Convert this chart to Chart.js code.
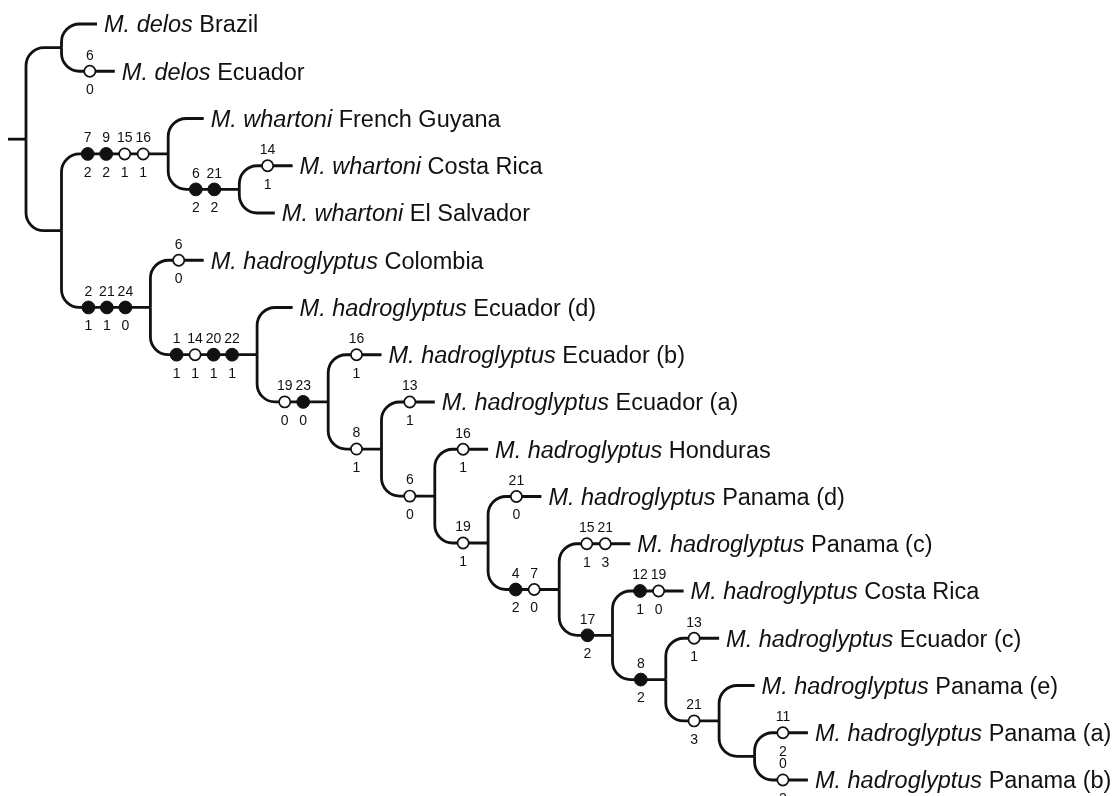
<!DOCTYPE html>
<html>
<head>
<meta charset="utf-8">
<script src="https://cdn.jsdelivr.net/npm/chart.js@4.4.1/dist/chart.umd.min.js"></script>
<style>
  html, body { margin: 0; padding: 0; background: #ffffff; }
  #wrap { width: 1114px; height: 796px; }
  canvas { display: block; }
</style>
</head>
<body>
<div id="wrap"><canvas id="tree" width="1114" height="796"></canvas></div>
<script>
// ---------------- DATA ----------------
// Terminal taxa, top to bottom (italic species name + locality)
const taxonSpecies = [
  "M. delos", "M. delos",
  "M. whartoni", "M. whartoni", "M. whartoni",
  "M. hadroglyptus", "M. hadroglyptus", "M. hadroglyptus", "M. hadroglyptus",
  "M. hadroglyptus", "M. hadroglyptus", "M. hadroglyptus", "M. hadroglyptus",
  "M. hadroglyptus", "M. hadroglyptus", "M. hadroglyptus", "M. hadroglyptus"
];
const taxonLocality = [
  "Brazil", "Ecuador",
  "French Guyana", "Costa Rica", "El Salvador",
  "Colombia", "Ecuador (d)", "Ecuador (b)", "Ecuador (a)",
  "Honduras", "Panama (d)", "Panama (c)", "Costa Rica",
  "Ecuador (c)", "Panama (e)", "Panama (a)", "Panama (b)"
];

// Internal clades and their two children (leaves are t0..t16)
const cladeIds = ["root", "delos", "WH", "whar", "whCA", "hadro",
  "h2", "h3", "h4", "h5", "h6", "h7", "h8", "h9", "h10", "h11"];
const cladeChildren = [
  ["delos", "WH"], ["t0", "t1"], ["whar", "hadro"], ["t2", "whCA"], ["t3", "t4"],
  ["t5", "h2"], ["t6", "h3"], ["t7", "h4"], ["t8", "h5"], ["t9", "h6"],
  ["t10", "h7"], ["t11", "h8"], ["t12", "h9"], ["t13", "h10"], ["t14", "h11"],
  ["t15", "t16"]
];

// Character-state changes mapped on branches (branch = node the branch leads to)
const changeBranch = ["t1", "whar", "whar", "whar", "whar", "whCA", "whCA", "t3",
  "hadro", "hadro", "hadro", "t5", "h2", "h2", "h2", "h2", "h3", "h3", "t7",
  "h4", "t8", "h5", "t9", "h6", "t10", "h7", "h7", "t11", "t11", "h8",
  "t12", "t12", "h9", "t13", "h10", "t15", "t16"];
const changeChar = [6, 7, 9, 15, 16, 6, 21, 14,
  2, 21, 24, 6, 1, 14, 20, 22, 19, 23, 16,
  8, 13, 6, 16, 19, 21, 4, 7, 15, 21, 17,
  12, 19, 8, 13, 21, 11, 0];
const changeState = [0, 2, 2, 1, 1, 2, 2, 1,
  1, 1, 0, 0, 1, 1, 1, 1, 0, 0, 1,
  1, 1, 0, 1, 1, 0, 2, 0, 1, 3, 2,
  1, 0, 2, 1, 3, 2, 2];
// 1 = filled circle (non-homoplastic), 0 = open circle (homoplastic)
const changeFilled = [0, 1, 1, 0, 0, 1, 1, 0,
  1, 1, 1, 0, 1, 0, 1, 1, 0, 1, 0,
  0, 0, 0, 0, 0, 0, 1, 0, 0, 0, 1,
  1, 0, 1, 0, 0, 0, 0];

// ---------------- LAYOUT (from topology) ----------------
const ROOT_X = 26, BRANCH_BASE = 35.5, STEP_PER_CHANGE = 17.8;
const MARK_END = 25, MARK_GAP = 18.5, STUB = 18, CORNER = 18;

const childrenOf = {};
cladeIds.forEach((id, i) => { childrenOf[id] = cladeChildren[i]; });
const parentOf = {};
cladeIds.forEach((id, i) => cladeChildren[i].forEach(c => { parentOf[c] = id; }));
const changesOn = {};
changeBranch.forEach((b, k) => { (changesOn[b] = changesOn[b] || []).push(k); });

const nodeY = {}, nodeX = {};
function layoutY(id) {
  if (id[0] === 't' && !childrenOf[id]) { nodeY[id] = parseInt(id.slice(1), 10); return nodeY[id]; }
  const ys = childrenOf[id].map(layoutY);
  nodeY[id] = ys.reduce((a, b) => a + b, 0) / ys.length;
  return nodeY[id];
}
function layoutX(id, x) {
  nodeX[id] = x;
  (childrenOf[id] || []).forEach(c => {
    const n = (changesOn[c] || []).length;
    layoutX(c, x + BRANCH_BASE + STEP_PER_CHANGE * n);
  });
}
layoutY("root");
layoutX("root", ROOT_X);

const filledPts = [], openPts = [];
changeBranch.forEach((b, k) => {
  const list = changesOn[b];
  const n = list.length, idx = list.indexOf(k);
  const pt = { x: nodeX[b] - MARK_END - MARK_GAP * (n - 1 - idx), y: nodeY[b], k: k };
  (changeFilled[k] ? filledPts : openPts).push(pt);
});

const INK = "#111111";
const FONT = '"Liberation Sans", Arial, Helvetica, sans-serif';

const treePlugin = {
  id: "treePlugin",
  beforeDatasetsDraw(chart) {
    const { ctx, scales } = chart;
    const X = v => scales.x.getPixelForValue(v);
    const Y = v => scales.y.getPixelForValue(v);
    ctx.save();
    ctx.strokeStyle = INK;
    ctx.lineWidth = 2.8;
    ctx.lineCap = "butt";
    ctx.lineJoin = "round";
    // root stub
    ctx.beginPath();
    ctx.moveTo(X(nodeX.root) - STUB, Y(nodeY.root));
    ctx.lineTo(X(nodeX.root), Y(nodeY.root));
    ctx.stroke();
    Object.keys(parentOf).forEach(c => {
      const p = parentOf[c];
      const px = X(nodeX[p]), py = Y(nodeY[p]);
      const cx = X(nodeX[c]), cy = Y(nodeY[c]);
      const r = Math.min(CORNER, Math.abs(cy - py), cx - px);
      ctx.beginPath();
      ctx.moveTo(px, py);
      ctx.arcTo(px, cy, cx, cy, r);
      ctx.lineTo(cx, cy);
      ctx.stroke();
    });
    ctx.restore();
  },
  afterDatasetsDraw(chart) {
    const { ctx, scales } = chart;
    const X = v => scales.x.getPixelForValue(v);
    const Y = v => scales.y.getPixelForValue(v);
    ctx.save();
    ctx.fillStyle = INK;
    // character numbers (above) and states (below)
    ctx.font = "14px " + FONT;
    ctx.textAlign = "center";
    ctx.textBaseline = "middle";
    filledPts.concat(openPts).forEach(pt => {
      const x = X(pt.x), y = Y(pt.y);
      ctx.fillText(String(changeChar[pt.k]), x, y - 15.5);
      ctx.fillText(String(changeState[pt.k]), x, y + 19);
    });
    // terminal labels
    ctx.textAlign = "left";
    ctx.textBaseline = "alphabetic";
    const size = 23.5;
    taxonSpecies.forEach((sp, i) => {
      const id = "t" + i;
      let x = X(nodeX[id]) + 7;
      const y = Y(nodeY[id]) + size * 0.36;
      ctx.font = "italic " + size + "px " + FONT;
      ctx.fillText(sp, x, y);
      x += ctx.measureText(sp + " ").width;
      ctx.font = size + "px " + FONT;
      ctx.fillText(taxonLocality[i], x, y);
    });
    ctx.restore();
  }
};

new Chart(document.getElementById("tree"), {
  type: "scatter",
  data: {
    datasets: [
      {
        label: "Non-homoplastic change",
        data: filledPts,
        pointRadius: 6.4,
        pointBackgroundColor: INK,
        pointBorderColor: INK,
        pointBorderWidth: 1,
        showLine: false
      },
      {
        label: "Homoplastic change",
        data: openPts,
        pointRadius: 5.6,
        pointBackgroundColor: "#ffffff",
        pointBorderColor: INK,
        pointBorderWidth: 1.7,
        showLine: false
      }
    ]
  },
  options: {
    responsive: false,
    animation: false,
    events: [],
    clip: false,
    layout: { padding: 0, autoPadding: false },
    plugins: { legend: { display: false }, tooltip: { enabled: false } },
    scales: {
      x: { type: "linear", min: 0, max: 1114, display: false },
      y: { type: "linear", min: -0.508, max: 16.339, reverse: true, display: false }
    }
  },
  plugins: [treePlugin]
});
</script>
</body>
</html>
